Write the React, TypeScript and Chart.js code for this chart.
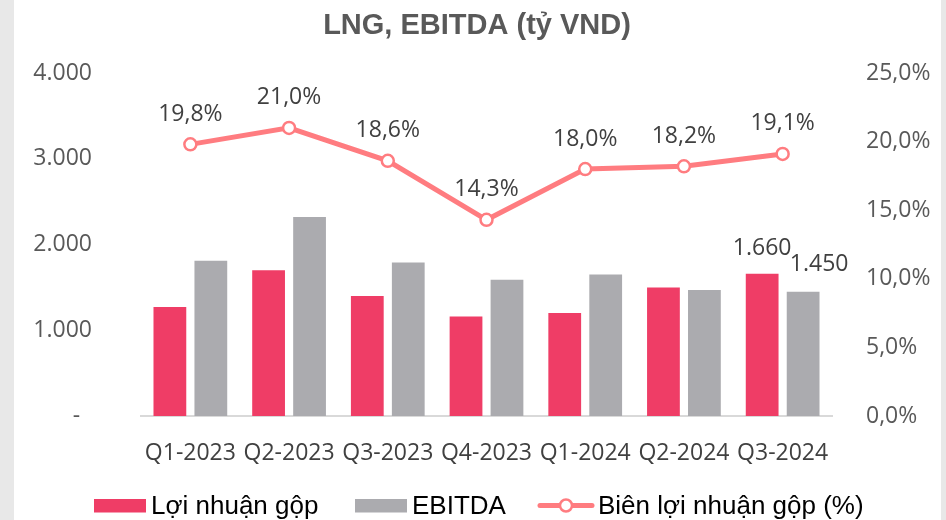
import React, { useEffect, useRef } from "react";
import { Chart, registerables } from "chart.js";

Chart.register(...registerables);

const categories = ["Q1-2023", "Q2-2023", "Q3-2023", "Q4-2023", "Q1-2024", "Q2-2024", "Q3-2024"];
const grossProfit = [1270, 1700, 1400, 1160, 1200, 1500, 1660];
const ebitda = [1810, 2320, 1790, 1590, 1650, 1470, 1450];
const grossMargin = [19.8, 21.0, 18.6, 14.3, 18.0, 18.2, 19.1];
const leftTicks = [0, 1000, 2000, 3000, 4000];
const rightTicks = [0, 5, 10, 15, 20, 25];
const seriesNames = ["Lợi nhuận gộp", "EBITDA", "Biên lợi nhuận gộp (%)"];
const titleText = "LNG, EBITDA (tỷ VND)";

const RED = "#EF3D66";
const GRAY = "#ABABAF";
const LINE = "#FF7C80";
const NUM_FONT = "'Open Sans', sans-serif";

const fmtThousands = (v: number) => {
  if (v === 0) return "-  ";
  return Math.round(v).toString().replace(/\B(?=(\d{3})+(?!\d))/g, ".");
};
const fmtPct = (v: number) => v.toFixed(1).replace(".", ",") + "%";

const overlayPlugin = {
  id: "overlay",
  afterDatasetsDraw(chart: any) {
    const ctx = chart.ctx;
    ctx.save();
    const lineMeta = chart.getDatasetMeta(2);
    ctx.font = `23px ${NUM_FONT}`;
    ctx.fillStyle = "#404040";
    ctx.textAlign = "center";
    ctx.textBaseline = "middle";
    lineMeta.data.forEach((pt: any, i: number) => {
      ctx.fillText(fmtPct(grossMargin[i]), pt.x, pt.y - 30);
    });
    const last = categories.length - 1;
    const redBar = chart.getDatasetMeta(0).data[last];
    const grayBar = chart.getDatasetMeta(1).data[last];
    ctx.fillText(fmtThousands(grossProfit[last]), redBar.x, redBar.y - 25);
    ctx.fillText(fmtThousands(ebitda[last]), grayBar.x + 16, grayBar.y - 27);
    ctx.restore();
  },
  afterDraw(chart: any) {
    const ctx = chart.ctx;
    ctx.save();
    ctx.font = "bold 29px 'Liberation Sans', Arial, sans-serif";
    ctx.fillStyle = "#595959";
    ctx.textAlign = "center";
    ctx.textBaseline = "alphabetic";
    ctx.fillText(titleText, 477, 34);
    ctx.font = "26px 'Liberation Sans', Arial, sans-serif";
    ctx.textAlign = "left";
    const baseY = 514;
    const midY = 505.5;
    ctx.fillStyle = RED;
    ctx.fillRect(94, 499, 52, 13.5);
    ctx.fillStyle = "#000";
    ctx.fillText(seriesNames[0], 151, baseY);
    ctx.fillStyle = GRAY;
    ctx.fillRect(355, 499, 52, 13.5);
    ctx.fillStyle = "#000";
    ctx.fillText(seriesNames[1], 412, baseY);
    ctx.strokeStyle = LINE;
    ctx.lineWidth = 5;
    ctx.lineCap = "round";
    ctx.beginPath();
    ctx.moveTo(540, midY);
    ctx.lineTo(592, midY);
    ctx.stroke();
    ctx.beginPath();
    ctx.arc(566, midY, 6, 0, Math.PI * 2);
    ctx.fillStyle = "#fff";
    ctx.fill();
    ctx.lineWidth = 2.5;
    ctx.stroke();
    ctx.fillStyle = "#000";
    ctx.fillText(seriesNames[2], 598, baseY);
    ctx.restore();
  },
};

export default function App() {
  const ref = useRef<HTMLCanvasElement>(null);
  useEffect(() => {
    if (!ref.current) return;
    let chart: any = null;
    let cancelled = false;
    const build = () => {
      if (cancelled || !ref.current) return;
      chart = new Chart(ref.current, {
        type: "bar",
        data: {
          labels: categories,
          datasets: [
            {
              type: "bar",
              label: seriesNames[0],
              data: grossProfit,
              backgroundColor: RED,
              yAxisID: "y",
              order: 2,
              categoryPercentage: 0.83,
              barPercentage: 0.8,
            },
            {
              type: "bar",
              label: seriesNames[1],
              data: ebitda,
              backgroundColor: GRAY,
              yAxisID: "y",
              order: 2,
              categoryPercentage: 0.83,
              barPercentage: 0.8,
            },
            {
              type: "line",
              label: seriesNames[2],
              data: grossMargin,
              borderColor: LINE,
              borderWidth: 5,
              pointRadius: 6,
              pointBorderWidth: 2.5,
              pointBackgroundColor: "#fff",
              pointBorderColor: LINE,
              yAxisID: "y1",
              order: 0,
              tension: 0,
            } as any,
          ],
        },
        options: {
          responsive: false,
          animation: false,
          layout: { padding: { top: 73, bottom: 0, left: 0, right: 0 } },
          plugins: {
            legend: { display: false },
            title: { display: false },
            tooltip: { enabled: false },
          },
          scales: {
            x: {
              grid: { display: false },
              border: { display: true, color: "#D9D9D9", width: 2 },
              ticks: {
                color: "#404040",
                font: { family: NUM_FONT, size: 23 },
                padding: 16,
                maxRotation: 0,
                autoSkip: false,
              },
              afterFit(s: any) {
                s.height = 104;
              },
            },
            y: {
              position: "left",
              min: 0,
              max: 4000,
              grid: { display: false },
              border: { display: false },
              afterBuildTicks(s: any) {
                s.ticks = leftTicks.map((v) => ({ value: v }));
              },
              ticks: {
                color: "#595959",
                font: { family: NUM_FONT, size: 23 },
                padding: 41,
                callback: (v: any) => fmtThousands(Number(v)),
              },
              afterFit(s: any) {
                s.width = 141;
              },
            },
            y1: {
              position: "right",
              min: 0,
              max: 25,
              grid: { display: false },
              border: { display: false },
              afterBuildTicks(s: any) {
                s.ticks = rightTicks.map((v) => ({ value: v }));
              },
              ticks: {
                color: "#595959",
                font: { family: NUM_FONT, size: 23 },
                padding: 26,
                callback: (v: any) => fmtPct(Number(v)),
              },
              afterFit(s: any) {
                s.width = 114;
              },
            },
          },
        },
        plugins: [overlayPlugin],
      });
    };
    const fonts: any = (document as any).fonts;
    if (fonts && fonts.load) {
      Promise.all([
        fonts.load("23px 'Open Sans'"),
        fonts.load("26px 'Liberation Sans'"),
        fonts.load("bold 29px 'Liberation Sans'"),
      ])
        .catch(() => null)
        .then(build);
    } else {
      build();
    }
    return () => {
      cancelled = true;
      if (chart) chart.destroy();
    };
  }, []);

  return (
    <div
      style={{
        position: "fixed",
        left: 0,
        top: 0,
        width: 946,
        height: 520,
        background: "#E8E8E8",
        overflow: "hidden",
      }}
    >
      <div
        style={{
          position: "absolute",
          left: 14,
          top: 0,
          width: 927,
          height: 520,
          background: "#FFFFFF",
        }}
      />
      <canvas
        ref={ref}
        width={946}
        height={520}
        style={{ position: "absolute", left: 0, top: 0, width: 946, height: 520 }}
      />
    </div>
  );
}
